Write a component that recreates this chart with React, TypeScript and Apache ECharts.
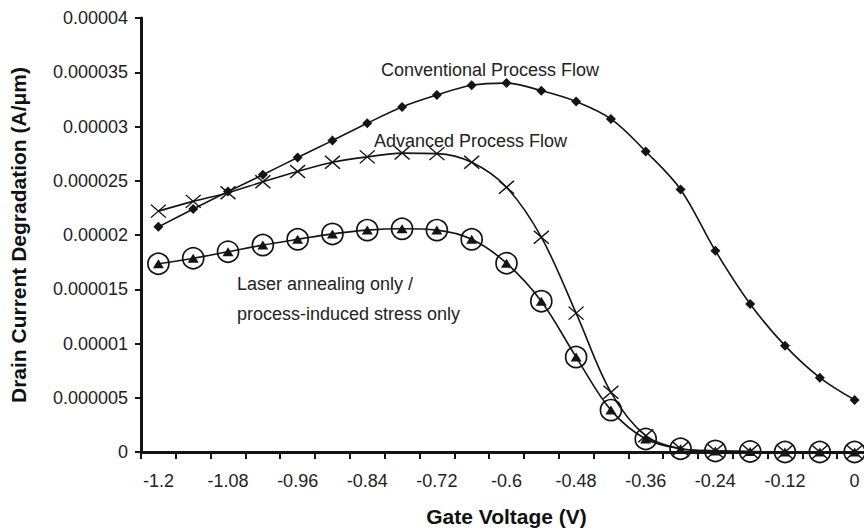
import React, { useEffect, useRef } from "react";
import * as echarts from "echarts";

const categories = [
  "-1.2", "-1.14", "-1.08", "-1.02", "-0.96", "-0.9", "-0.84", "-0.78", "-0.72", "-0.66",
  "-0.6", "-0.54", "-0.48", "-0.42", "-0.36", "-0.3", "-0.24", "-0.18", "-0.12", "-0.06", "0",
];

const yTickLabels = [
  "0", "0.000005", "0.00001", "0.000015", "0.00002", "0.000025", "0.00003", "0.000035", "0.00004",
];

const conventional = [
  2.075e-5, 2.24e-5, 2.4e-5, 2.555e-5, 2.715e-5, 2.87e-5, 3.03e-5, 3.18e-5, 3.29e-5, 3.38e-5,
  3.4e-5, 3.33e-5, 3.23e-5, 3.07e-5, 2.77e-5, 2.42e-5, 1.855e-5, 1.364e-5, 0.98e-5, 0.685e-5, 0.48e-5,
];

const advanced = [
  2.22e-5, 2.31e-5, 2.39e-5, 2.49e-5, 2.585e-5, 2.67e-5, 2.72e-5, 2.755e-5, 2.75e-5, 2.67e-5,
  2.44e-5, 1.98e-5, 1.28e-5, 0.55e-5, 0.15e-5, 0.03e-5, 0.01e-5, 0.005e-5, 0, 0, 0,
];

const laser = [
  1.735e-5, 1.786e-5, 1.846e-5, 1.907e-5, 1.96e-5, 2.01e-5, 2.045e-5, 2.057e-5, 2.045e-5, 1.96e-5,
  1.74e-5, 1.39e-5, 0.875e-5, 0.386e-5, 0.12e-5, 0.03e-5, 0.01e-5, 0.005e-5, 0, 0, 0,
];

const annotations = [
  { text: "Conventional Process Flow", x: 381, y: 70 },
  { text: "Advanced Process Flow", x: 374, y: 141 },
  { text: "Laser annealing only /", x: 237, y: 284 },
  { text: "process-induced stress only", x: 237, y: 314 },
];

const FONT = '"Liberation Sans", Arial, Helvetica, sans-serif';
const INK = "#141414";

export default function App() {
  const ref = useRef<HTMLDivElement>(null);

  useEffect(() => {
    if (!ref.current) return;
    const chart = echarts.init(ref.current, undefined, { renderer: "svg" });
    const lineBase = {
      type: "line" as const,
      smooth: 0.35,
      lineStyle: { color: INK, width: 1.6 },
      z: 3,
    };
    chart.setOption({
      animation: false,
      grid: { left: 140, top: 18, width: 732, height: 442 },
      textStyle: { fontFamily: FONT },
      xAxis: {
        type: "category",
        data: categories,
        boundaryGap: true,
        name: "Gate Voltage (V)",
        nameLocation: "middle",
        nameGap: 54,
        nameTextStyle: { fontFamily: FONT, fontSize: 21, fontWeight: "bold", color: "#111" },
        axisLine: { show: true, lineStyle: { color: INK, width: 3 } },
        axisTick: { show: true, interval: 0, length: 7, lineStyle: { color: INK, width: 2 } },
        axisLabel: { interval: 1, margin: 20, fontFamily: FONT, fontSize: 18, color: "#222" },
        splitLine: { show: false },
      },
      yAxis: {
        type: "value",
        min: 0,
        max: 0.00004,
        interval: 0.000005,
        name: "Drain Current Degradation (A/μm)",
        nameLocation: "middle",
        nameGap: 112,
        nameTextStyle: { fontFamily: FONT, fontSize: 21, fontWeight: "bold", color: "#111" },
        axisLine: { show: true, lineStyle: { color: INK, width: 3 } },
        axisTick: { show: true, length: 6, lineStyle: { color: INK, width: 2 } },
        axisLabel: {
          margin: 13,
          fontFamily: FONT,
          fontSize: 18,
          color: "#222",
          formatter: (v: number) => yTickLabels[Math.round(v / 0.000005)] ?? "",
        },
        splitLine: { show: false },
      },
      graphic: annotations.map((a) => ({
        type: "text",
        x: a.x,
        y: a.y,
        z: 10,
        style: {
          text: a.text,
          fill: "#222",
          font: `18px ${FONT}`,
          verticalAlign: "middle",
          align: "left",
        },
      })),
      series: [
        {
          ...lineBase,
          name: "Conventional Process Flow",
          data: conventional,
          symbol: "diamond",
          symbolSize: 10,
          itemStyle: { color: INK },
        },
        {
          ...lineBase,
          name: "Advanced Process Flow",
          data: advanced,
          symbol: "path://M0,0L15,13M15,0L0,13",
          symbolSize: [15, 13],
          itemStyle: { color: "transparent", borderColor: INK, borderWidth: 1.4 },
        },
        {
          ...lineBase,
          name: "Laser annealing only",
          data: laser,
          symbol: "triangle",
          symbolSize: [11, 9],
          itemStyle: { color: INK },
        },
        {
          type: "line",
          name: "Laser annealing only (circle)",
          data: laser,
          symbol: "circle",
          symbolSize: 21,
          lineStyle: { width: 0, opacity: 0 },
          itemStyle: { color: "transparent", borderColor: INK, borderWidth: 1.7 },
          z: 4,
        },
      ],
    });
    return () => chart.dispose();
  }, []);

  return (
    <div
      style={{ position: "absolute", left: 0, top: 0, width: 864, height: 532, overflow: "hidden", background: "#fff" }}
    >
      <div ref={ref} style={{ width: 884, height: 532 }} />
    </div>
  );
}
